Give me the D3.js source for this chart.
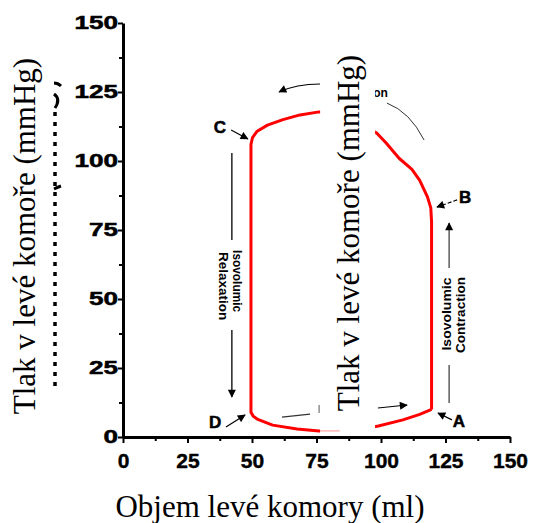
<!DOCTYPE html>
<html>
<head>
<meta charset="utf-8">
<script src="https://cdn.jsdelivr.net/npm/d3@7"></script>
<style>
  body { margin: 0; background: #fff; }
  svg { display: block; }
</style>
</head>
<body>
<div id="chart"></div>
<script>
// pressure-volume loop, starting at A and going counter-clockwise (A -> B -> C -> D -> A)
var volume   = [119.6, 119.6, 119.6, 119.3, 118, 115, 112, 107, 102, 98.5, 92, 85, 76, 68.6, 62, 56, 52, 50.2, 49.6, 49.6, 49.6, 50.5, 52, 58, 67.5, 76, 85, 92, 99, 108.5, 115, 119.6];
var pressure = [10, 40, 78, 83, 87, 93, 97, 101, 106.5, 110, 113.5, 116.5, 117.8, 116.7, 115, 113, 110.8, 108.5, 106, 50, 9, 7.5, 6.5, 4.3, 2.9, 2.2, 2.3, 2.8, 4, 6.2, 8.2, 10];

var xTicks = [0, 25, 50, 75, 100, 125, 150];
var yTicks = [0, 25, 50, 75, 100, 125, 150];
var pointNames = ["A", "B", "C", "D"];
var yTitle = "Tlak v levé komoře (mmHg)";
var xTitle = "Objem levé komory (ml)";

var svgWidth = 533;
var svgHeight = 523;

var svg = d3.select("#chart")
  .append("svg")
  .attr("width", svgWidth)
  .attr("height", svgHeight);

var defs = svg.append("defs");
defs.append("marker")
  .attr("id", "head")
  .attr("viewBox", "0 0 10 10")
  .attr("refX", 9).attr("refY", 5)
  .attr("markerWidth", 9).attr("markerHeight", 8)
  .attr("markerUnits", "userSpaceOnUse")
  .attr("orient", "auto")
  .append("path")
  .attr("d", "M0,0 L10,5 L0,10 Z")
  .attr("fill", "#000");

var x = d3.scaleLinear().domain([0, 150]).range([123, 510]);
var y = d3.scaleLinear().domain([0, 150]).range([437, 23]);

// old label remnants, left of the axis
svg.append("line")
  .attr("x1", 55).attr("x2", 55)
  .attr("y1", 112).attr("y2", 386)
  .attr("stroke", "#000").attr("stroke-width", 3.5)
  .attr("stroke-dasharray", "4,6");
svg.append("path")
  .attr("d", "M54,83 Q58,83 61,86 M54,94 Q61,99 55,108 M54,189 Q58,187 61,186")
  .attr("fill", "none").attr("stroke", "#000").attr("stroke-width", 3);

// loop
var line = d3.line()
  .x((d, i) => x(volume[i]))
  .y((d, i) => y(pressure[i]));

svg.append("path")
  .datum(volume)
  .attr("d", line)
  .attr("fill", "none")
  .attr("stroke", "#ff0000")
  .attr("stroke-width", 3)
  .attr("stroke-linejoin", "round");

// annotations (in data units)
function P(v, p) { return x(v) + "," + y(p); }

var labelPos = { A: [130.2, 3.6], B: [132.6, 84.8], C: [37.6, 110.1], D: [35.7, 3.3] };
var labelArrows = {
  A: [[127.5, 6.2], [122.1, 8.7]],
  B: [[129.5, 85.9], [121.7, 83.3]],
  C: [[41.9, 111.2], [48.4, 108.0]],
  D: [[39.9, 3.6], [47.3, 8.0]]
};

svg.selectAll(".pt")
  .data(pointNames)
  .enter()
  .append("text")
  .attr("class", "pt")
  .attr("x", d => x(labelPos[d][0]))
  .attr("y", d => y(labelPos[d][1]))
  .attr("text-anchor", "middle")
  .attr("font-family", "Liberation Sans, Arial, sans-serif")
  .attr("font-weight", "bold")
  .attr("font-size", 17)
  .attr("stroke", "#000").attr("stroke-width", 0.5)
  .text(d => d);

svg.selectAll(".ptArrow")
  .data(pointNames)
  .enter()
  .append("path")
  .attr("class", "ptArrow")
  .attr("d", d => "M" + P(labelArrows[d][0][0], labelArrows[d][0][1]) + " L" + P(labelArrows[d][1][0], labelArrows[d][1][1]))
  .attr("stroke", "#000").attr("stroke-width", 1.2)
  .attr("stroke-dasharray", d => d == "B" ? "4,2" : null)
  .attr("marker-end", "url(#head)");

// isovolumic relaxation
svg.append("line")
  .attr("x1", x(42.2)).attr("x2", x(42.2))
  .attr("y1", y(102.9)).attr("y2", y(71.4))
  .attr("stroke", "#000").attr("stroke-width", 1.3);
svg.append("line")
  .attr("x1", x(42.2)).attr("x2", x(42.2))
  .attr("y1", y(38.8)).attr("y2", y(14.5))
  .attr("stroke", "#000").attr("stroke-width", 1.3)
  .attr("marker-end", "url(#head)");

var relax = svg.append("g")
  .attr("transform", `translate(${x(42.2)},${y(55.4)}) rotate(90)`)
  .attr("font-family", "Liberation Sans, Arial, sans-serif")
  .attr("font-weight", "bold")
  .attr("font-size", 12.5);
relax.append("text").attr("x", -3).attr("y", -1).attr("text-anchor", "middle")
  .attr("textLength", 62).attr("lengthAdjust", "spacingAndGlyphs").text("Isovolumic");
relax.append("text").attr("x", 2).attr("y", 13).attr("text-anchor", "middle")
  .attr("textLength", 68).attr("lengthAdjust", "spacingAndGlyphs").text("Relaxation");

// isovolumic contraction
svg.append("line")
  .attr("x1", x(126.4)).attr("x2", x(126.4))
  .attr("y1", y(12.3)).attr("y2", y(26.1))
  .attr("stroke", "#444").attr("stroke-width", 1.3);
svg.append("line")
  .attr("x1", x(126.4)).attr("x2", x(126.4))
  .attr("y1", y(61.2)).attr("y2", y(77.5))
  .attr("stroke", "#444").attr("stroke-width", 1.3)
  .attr("marker-end", "url(#head)");

var contr = svg.append("g")
  .attr("transform", `translate(${x(126.4)},${y(44.2)}) rotate(-90)`)
  .attr("font-family", "Liberation Sans, Arial, sans-serif")
  .attr("font-weight", "bold")
  .attr("font-size", 12.5);
contr.append("text").attr("x", 1).attr("y", 2).attr("text-anchor", "middle")
  .attr("textLength", 73).attr("lengthAdjust", "spacingAndGlyphs").text("Isovolumic");
contr.append("text").attr("x", 0).attr("y", 16).attr("text-anchor", "middle")
  .attr("textLength", 76).attr("lengthAdjust", "spacingAndGlyphs").text("Contraction");

// ejection / filling bits
svg.append("path")
  .attr("d", "M" + P(76.4, 127.9) + " Q" + P(67.1, 127.9) + " " + P(60.5, 125))
  .attr("fill", "none").attr("stroke", "#000").attr("stroke-width", 1.2)
  .attr("marker-end", "url(#head)");
svg.append("text")
  .attr("x", x(102.7)).attr("y", y(123.2))
  .attr("text-anchor", "end")
  .attr("font-family", "Liberation Sans, Arial, sans-serif")
  .attr("font-weight", "bold")
  .attr("font-size", 12)
  .text("Ejection");
svg.append("path")
  .attr("d", "M" + P(102.3, 121) + " Q" + P(111.2, 117.8) + " " + P(116.7, 107.6))
  .attr("fill", "none").attr("stroke", "#333").attr("stroke-width", 1);

svg.append("path")
  .attr("d", "M" + P(61.6, 7.2) + " L" + P(72.5, 8.3))
  .attr("stroke", "#333").attr("stroke-width", 1.2);
svg.append("path")
  .attr("d", "M" + P(76, 11.6) + " L" + P(76, 8.7))
  .attr("stroke", "#555").attr("stroke-width", 1);
svg.append("path")
  .attr("d", "M" + P(98.8, 10.5) + " L" + P(110.1, 11.6))
  .attr("stroke", "#000").attr("stroke-width", 1.2)
  .attr("marker-end", "url(#head)");

// white patch over the middle of the loop
svg.append("rect")
  .attr("x", x(76.4)).attr("y", y(141.7))
  .attr("width", x(97.7) - x(76.4))
  .attr("height", y(0.7) - y(141.7))
  .attr("fill", "#fff");
svg.append("line")
  .attr("x1", x(76.4)).attr("x2", x(84))
  .attr("y1", y(2.2)).attr("y2", y(2.2))
  .attr("stroke", "#ff9090").attr("stroke-width", 1);

// axes
var bottomAxis = d3.axisBottom(x).tickValues(xTicks).tickSize(6).tickSizeOuter(0).tickPadding(10);
var leftAxis = d3.axisLeft(y).tickValues(yTicks).tickSize(5).tickSizeOuter(0).tickPadding(0);

var minorX = d3.axisBottom(x).tickValues(d3.range(12.5, 150, 25)).tickSize(4).tickSizeOuter(0).tickFormat("");
var minorY = d3.axisLeft(y).tickValues(d3.range(12.5, 150, 25)).tickSize(4).tickSizeOuter(0).tickFormat("");

var gx = svg.append("g").attr("transform", `translate(0,${y(0)})`).call(bottomAxis);
svg.append("g").attr("transform", `translate(0,${y(0)})`).call(minorX).select(".domain").remove();
var gy = svg.append("g").attr("transform", `translate(${x(0)},0)`).call(leftAxis);
svg.append("g").attr("transform", `translate(${x(0)},0)`).call(minorY).select(".domain").remove();

svg.selectAll(".domain").attr("stroke-width", 3).attr("stroke", "#000");
svg.selectAll(".tick line").attr("stroke-width", 2).attr("stroke", "#000");

gx.selectAll("text")
  .attr("font-family", "Liberation Sans, Arial, sans-serif")
  .attr("font-weight", "bold")
  .attr("font-size", 21)
  .attr("stroke", "#000").attr("stroke-width", 0.4)
  .attr("fill", "#000");

gy.selectAll("text")
  .attr("font-family", "Liberation Sans, Arial, sans-serif")
  .attr("font-weight", "bold")
  .attr("font-size", 18)
  .attr("stroke", "#000").attr("stroke-width", 0.5)
  .attr("fill", "#000")
  .attr("x", -3.5)
  .attr("transform", "scale(1.45,1)");

// titles
svg.append("text")
  .attr("x", 270).attr("y", 517)
  .attr("text-anchor", "middle")
  .attr("font-family", "Liberation Serif, Times New Roman, serif")
  .attr("font-size", 31)
  .text(xTitle);

svg.append("text")
  .attr("transform", "translate(35,236) rotate(-90)")
  .attr("text-anchor", "middle")
  .attr("font-family", "Liberation Serif, Times New Roman, serif")
  .attr("font-size", 31)
  .text(yTitle);

svg.append("text")
  .attr("transform", "translate(359,233) rotate(-90)")
  .attr("text-anchor", "middle")
  .attr("font-family", "Liberation Serif, Times New Roman, serif")
  .attr("font-size", 31)
  .text(yTitle);
</script>
</body>
</html>
